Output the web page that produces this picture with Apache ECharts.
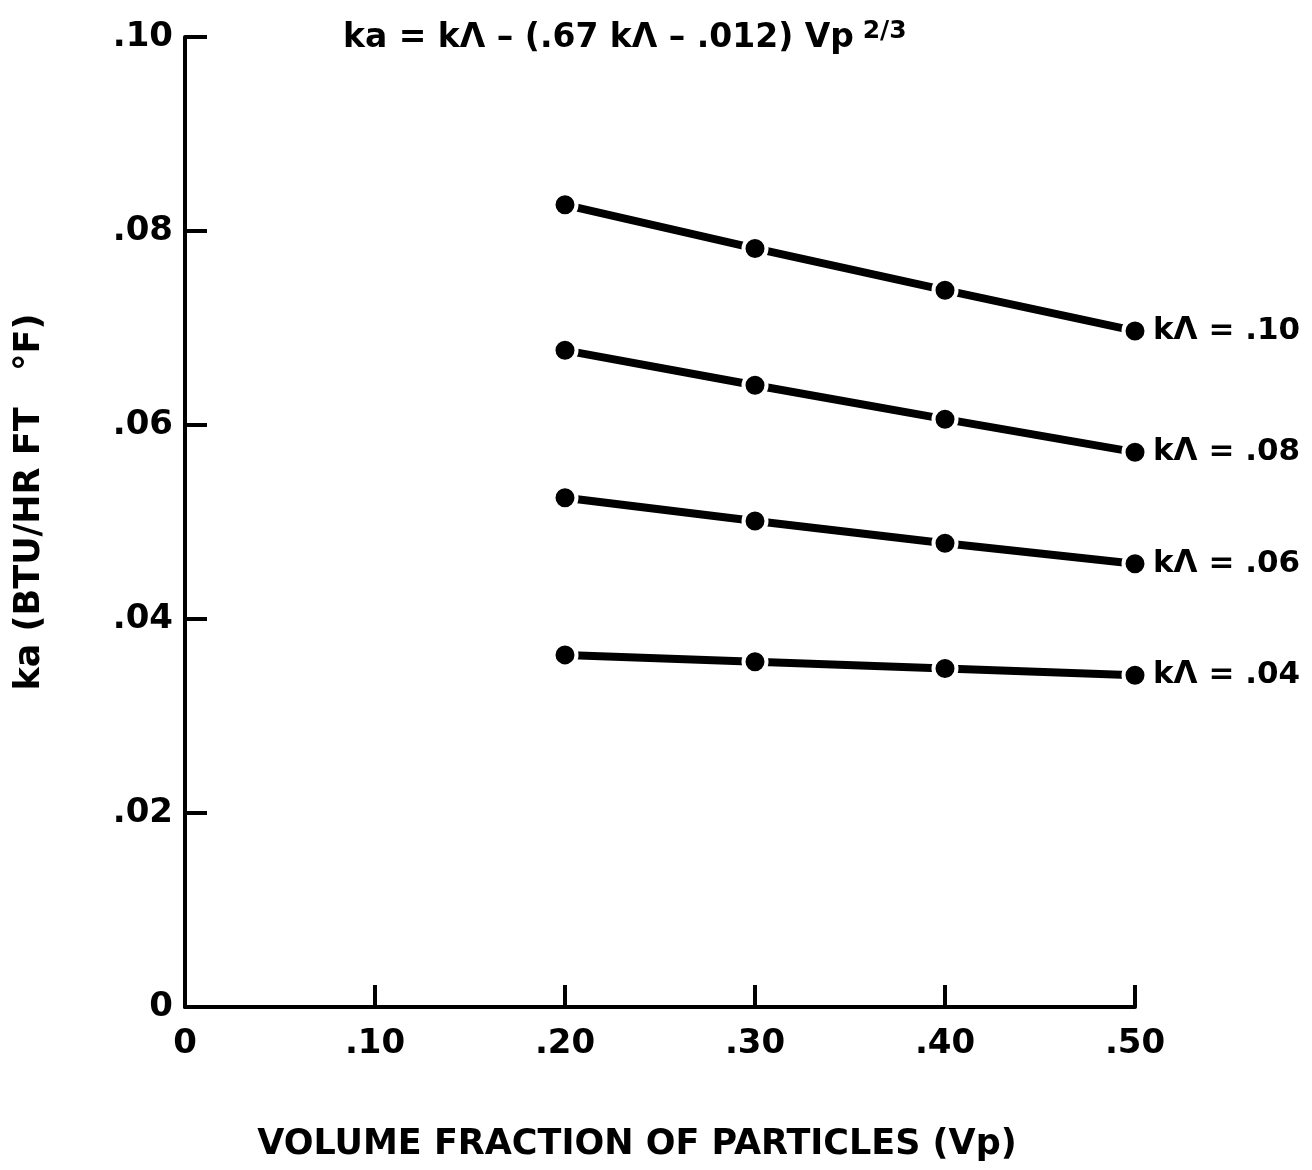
<!DOCTYPE html>
<html>
<head>
<meta charset="utf-8">
<script src="https://cdn.jsdelivr.net/npm/echarts@6/dist/echarts.min.js"></script>
<style>
  html, body { margin: 0; padding: 0; background: #fff; }
  #chart { width: 1312px; height: 1170px; }
</style>
</head>
<body>
<div id="chart"></div>
<script>
// volume fraction of particles
const vp = [0.2, 0.3, 0.4, 0.5];
// ka, one array per k-lambda
const ka10 = [0.0827, 0.0782, 0.0739, 0.0697];
const ka08 = [0.0677, 0.0641, 0.0606, 0.0572];
const ka06 = [0.0525, 0.0501, 0.0478, 0.0457];
const ka04 = [0.0363, 0.0356, 0.0349, 0.0342];
const curveLabels = ['kΛ = .10', 'kΛ = .08', 'kΛ = .06', 'kΛ = .04'];

const font = 'DejaVu Sans';

function tickText(v) {
  if (v === 0) return '0';
  return '.' + String(Math.round(v * 100)).padStart(2, '0');
}

function makeSeries(values, label) {
  return {
    type: 'line',
    data: vp.map((x, i) => [x, values[i]]),
    symbol: 'circle',
    symbolSize: 23,
    lineStyle: { color: '#000', width: 8 },
    itemStyle: { color: '#000', borderColor: '#fff', borderWidth: 4 },
    endLabel: {
      show: true,
      formatter: label,
      distance: 18,
      color: '#000',
      fontFamily: font,
      fontSize: 31,
      fontWeight: 'bold'
    },
    animation: false,
    z: 3
  };
}

const chart = echarts.init(document.getElementById('chart'));

chart.setOption({
  backgroundColor: '#fff',
  animation: false,
  title: {
    text: '{a|ka = kΛ – (.67 kΛ – .012) Vp}{s| 2/3}',
    left: 338,
    top: 14,
    textStyle: {
      rich: {
        a: { fontFamily: font, fontSize: 33, fontWeight: 'bold', color: '#000' },
        s: { fontFamily: font, fontSize: 25, fontWeight: 'bold', color: '#000', verticalAlign: 'top', padding: [0, 0, 14, 0] }
      }
    }
  },
  grid: {
    left: 185,
    right: 177,
    top: 37,
    bottom: 163,
    containLabel: false,
    outerBoundsMode: 'none'
  },
  xAxis: {
    type: 'value',
    min: 0,
    max: 0.5,
    interval: 0.1,
    name: 'VOLUME FRACTION OF PARTICLES (Vp)',
    nameLocation: 'middle',
    nameGap: 120,
    nameTextStyle: { fontFamily: font, fontSize: 35, fontWeight: 'bold', color: '#000', padding: [0, 46, 0, 0] },
    axisLine: { lineStyle: { color: '#000', width: 4 } },
    axisTick: { inside: true, length: 22, lineStyle: { color: '#000', width: 4 } },
    axisLabel: {
      formatter: tickText,
      margin: 20,
      fontFamily: font,
      fontSize: 34,
      fontWeight: 'bold',
      color: '#000'
    },
    splitLine: { show: false }
  },
  yAxis: {
    type: 'value',
    min: 0,
    max: 0.1,
    interval: 0.02,
    name: 'ka (BTU/HR FT   °F)',
    nameLocation: 'middle',
    nameGap: 138,
    nameRotate: 90,
    nameTextStyle: { fontFamily: font, fontSize: 35, fontWeight: 'bold', color: '#000', padding: [0, 0, 0, 40] },
    axisLine: { lineStyle: { color: '#000', width: 4 } },
    axisTick: { inside: true, length: 22, lineStyle: { color: '#000', width: 4 } },
    axisLabel: {
      formatter: tickText,
      margin: 12,
      fontFamily: font,
      fontSize: 34,
      fontWeight: 'bold',
      color: '#000'
    },
    splitLine: { show: false }
  },
  series: [
    makeSeries(ka10, curveLabels[0]),
    makeSeries(ka08, curveLabels[1]),
    makeSeries(ka06, curveLabels[2]),
    makeSeries(ka04, curveLabels[3])
  ]
});
</script>
</body>
</html>
